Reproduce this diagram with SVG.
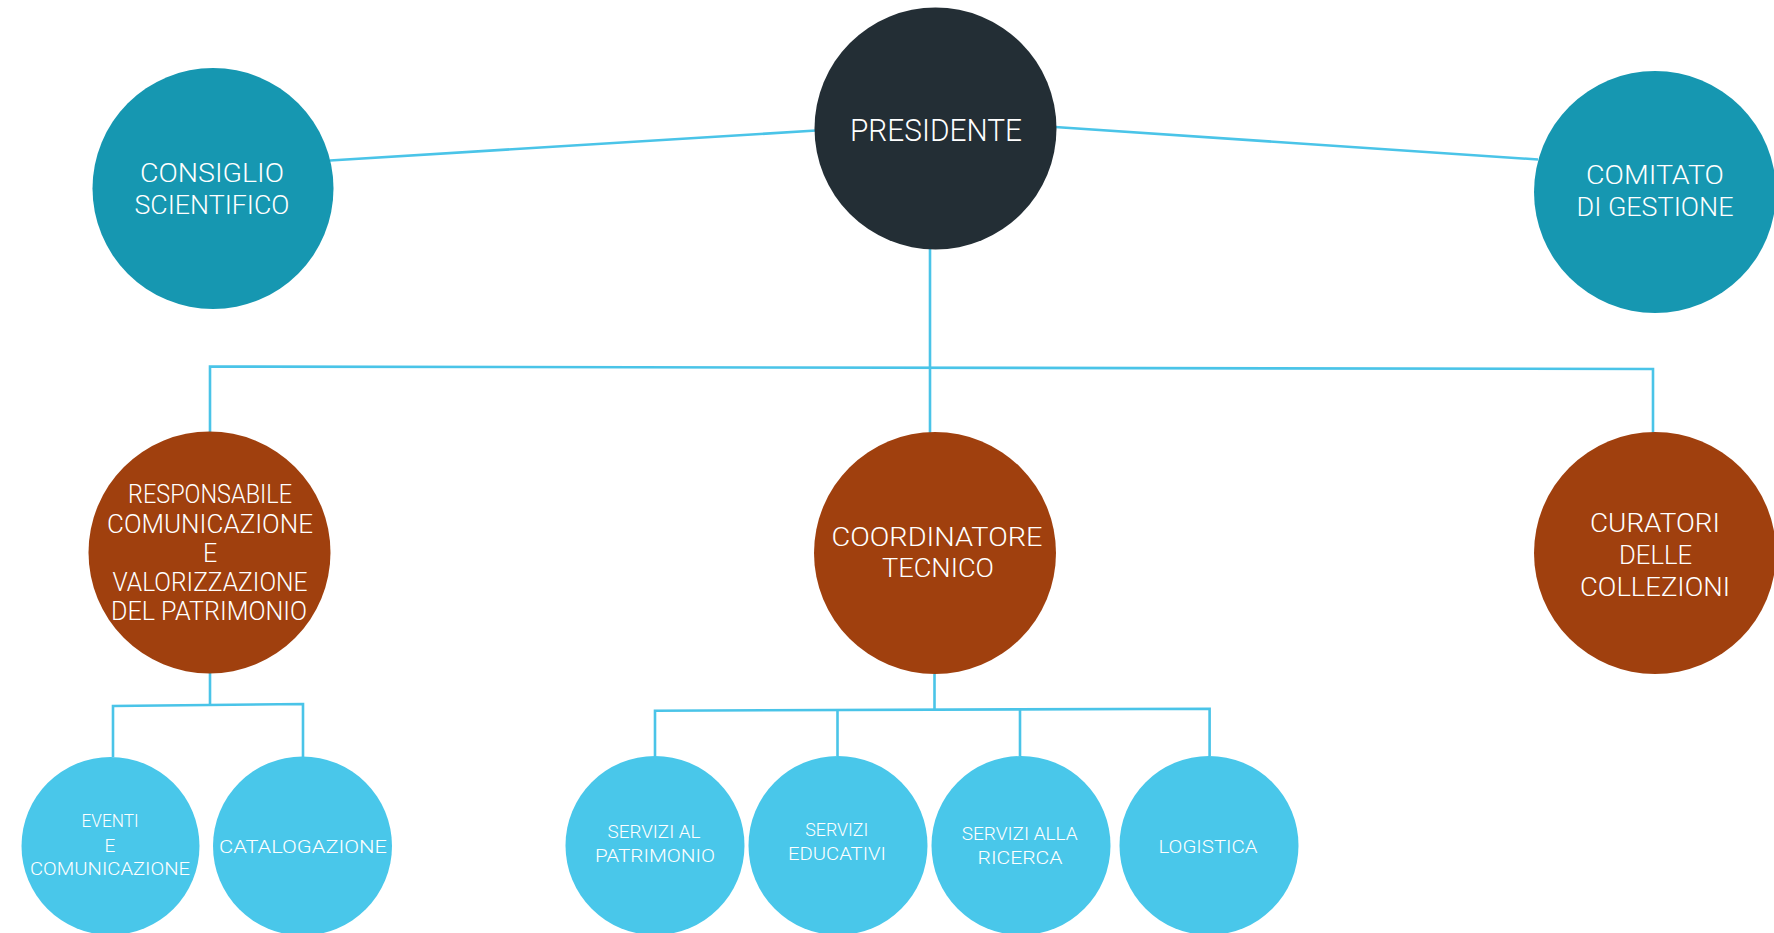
<svg xmlns="http://www.w3.org/2000/svg" width="1774" height="933" viewBox="0 0 1774 933">
<style>
.conn{fill:none;stroke:#4AC4E8;stroke-width:2.6}
.t{font-family:"Roboto","Liberation Sans",Arial,sans-serif;font-weight:300;fill:#ffffff;text-anchor:middle}
.dark{fill:#232E35}
.teal{fill:#1697B1}
.brown{fill:#A0400E}
.light{fill:#49C7EA}
.big{font-size:25px}
.pres{font-size:31px}
.sm{font-size:19px}
</style>
<rect width="1774" height="933" fill="#ffffff"/>
<g id="connectors">
<line class="conn" x1="330" y1="160.5" x2="816" y2="130.5"/>
<line class="conn" x1="1055" y1="127" x2="1538" y2="159.5"/>
<line class="conn" x1="930" y1="249" x2="930" y2="433"/>
<polyline class="conn" points="210,433 210,366.5 1653,369 1653,433"/>
<line class="conn" x1="210" y1="673" x2="210" y2="705"/>
<polyline class="conn" points="113,757 113,706 303,704 303,757"/>
<line class="conn" x1="934.5" y1="674" x2="934.5" y2="710"/>
<polyline class="conn" points="655,756 655,710.7 1209.6,708.7 1209.6,756"/>
<line class="conn" x1="837.5" y1="710.5" x2="837.5" y2="756"/>
<line class="conn" x1="1020" y1="710" x2="1020" y2="756"/>
</g>
<g id="presidente">
<circle class="dark" cx="935.5" cy="128.5" r="121"/>
<text class="t pres" x="936" y="141" textLength="172" lengthAdjust="spacingAndGlyphs">PRESIDENTE</text>
</g>
<g id="consiglio">
<circle class="teal" cx="213" cy="188.5" r="120.5"/>
<text class="t big" x="212" y="182" textLength="144" lengthAdjust="spacingAndGlyphs">CONSIGLIO</text>
<text class="t big" x="212" y="214" textLength="155" lengthAdjust="spacingAndGlyphs">SCIENTIFICO</text>
</g>
<g id="comitato">
<circle class="teal" cx="1655" cy="192" r="121"/>
<text class="t big" x="1655" y="184" textLength="138" lengthAdjust="spacingAndGlyphs">COMITATO</text>
<text class="t big" x="1655" y="215.7" textLength="157" lengthAdjust="spacingAndGlyphs">DI GESTIONE</text>
</g>
<g id="responsabile">
<circle class="brown" cx="209.5" cy="552.5" r="121"/>
<text class="t big" x="210" y="503.3" textLength="164" lengthAdjust="spacingAndGlyphs">RESPONSABILE</text>
<text class="t big" x="210" y="532.7" textLength="206" lengthAdjust="spacingAndGlyphs">COMUNICAZIONE</text>
<text class="t big" x="210" y="561.7">E</text>
<text class="t big" x="210" y="590.7" textLength="195" lengthAdjust="spacingAndGlyphs">VALORIZZAZIONE</text>
<text class="t big" x="209" y="620" textLength="196" lengthAdjust="spacingAndGlyphs">DEL PATRIMONIO</text>
</g>
<g id="coordinatore">
<circle class="brown" cx="935" cy="553" r="121"/>
<text class="t big" x="937" y="545.7" textLength="211" lengthAdjust="spacingAndGlyphs">COORDINATORE</text>
<text class="t big" x="938" y="577.3" textLength="112" lengthAdjust="spacingAndGlyphs">TECNICO</text>
</g>
<g id="curatori">
<circle class="brown" cx="1655" cy="553" r="121"/>
<text class="t big" x="1655" y="531.7" textLength="130" lengthAdjust="spacingAndGlyphs">CURATORI</text>
<text class="t big" x="1655.5" y="564.3" textLength="73" lengthAdjust="spacingAndGlyphs">DELLE</text>
<text class="t big" x="1655" y="596" textLength="150" lengthAdjust="spacingAndGlyphs">COLLEZIONI</text>
</g>
<g id="eventi">
<circle class="light" cx="110.5" cy="846" r="89"/>
<text class="t sm" x="110" y="827.3" textLength="57" lengthAdjust="spacingAndGlyphs">EVENTI</text>
<text class="t sm" x="110" y="851.7">E</text>
<text class="t sm" x="110" y="875" textLength="160" lengthAdjust="spacingAndGlyphs">COMUNICAZIONE</text>
</g>
<g id="catalogazione">
<circle class="light" cx="302.5" cy="846" r="89.5"/>
<text class="t sm" x="303" y="853.3" font-size="20" textLength="168" lengthAdjust="spacingAndGlyphs">CATALOGAZIONE</text>
</g>
<g id="servizi-patrimonio">
<circle class="light" cx="655" cy="845.5" r="89.5"/>
<text class="t sm" x="654" y="838.3" textLength="93" lengthAdjust="spacingAndGlyphs">SERVIZI AL</text>
<text class="t sm" x="655" y="862.3" textLength="120" lengthAdjust="spacingAndGlyphs">PATRIMONIO</text>
</g>
<g id="servizi-educativi">
<circle class="light" cx="838" cy="845.5" r="89.5"/>
<text class="t sm" x="836.7" y="836" textLength="63" lengthAdjust="spacingAndGlyphs">SERVIZI</text>
<text class="t sm" x="837" y="860" textLength="98" lengthAdjust="spacingAndGlyphs">EDUCATIVI</text>
</g>
<g id="servizi-ricerca">
<circle class="light" cx="1021" cy="845.5" r="89.5"/>
<text class="t sm" x="1019.7" y="840" textLength="116" lengthAdjust="spacingAndGlyphs">SERVIZI ALLA</text>
<text class="t sm" x="1020" y="864" textLength="85" lengthAdjust="spacingAndGlyphs">RICERCA</text>
</g>
<g id="logistica">
<circle class="light" cx="1209" cy="845.5" r="89.5"/>
<text class="t sm" x="1208" y="852.7" textLength="99" lengthAdjust="spacingAndGlyphs">LOGISTICA</text>
</g>
</svg>
